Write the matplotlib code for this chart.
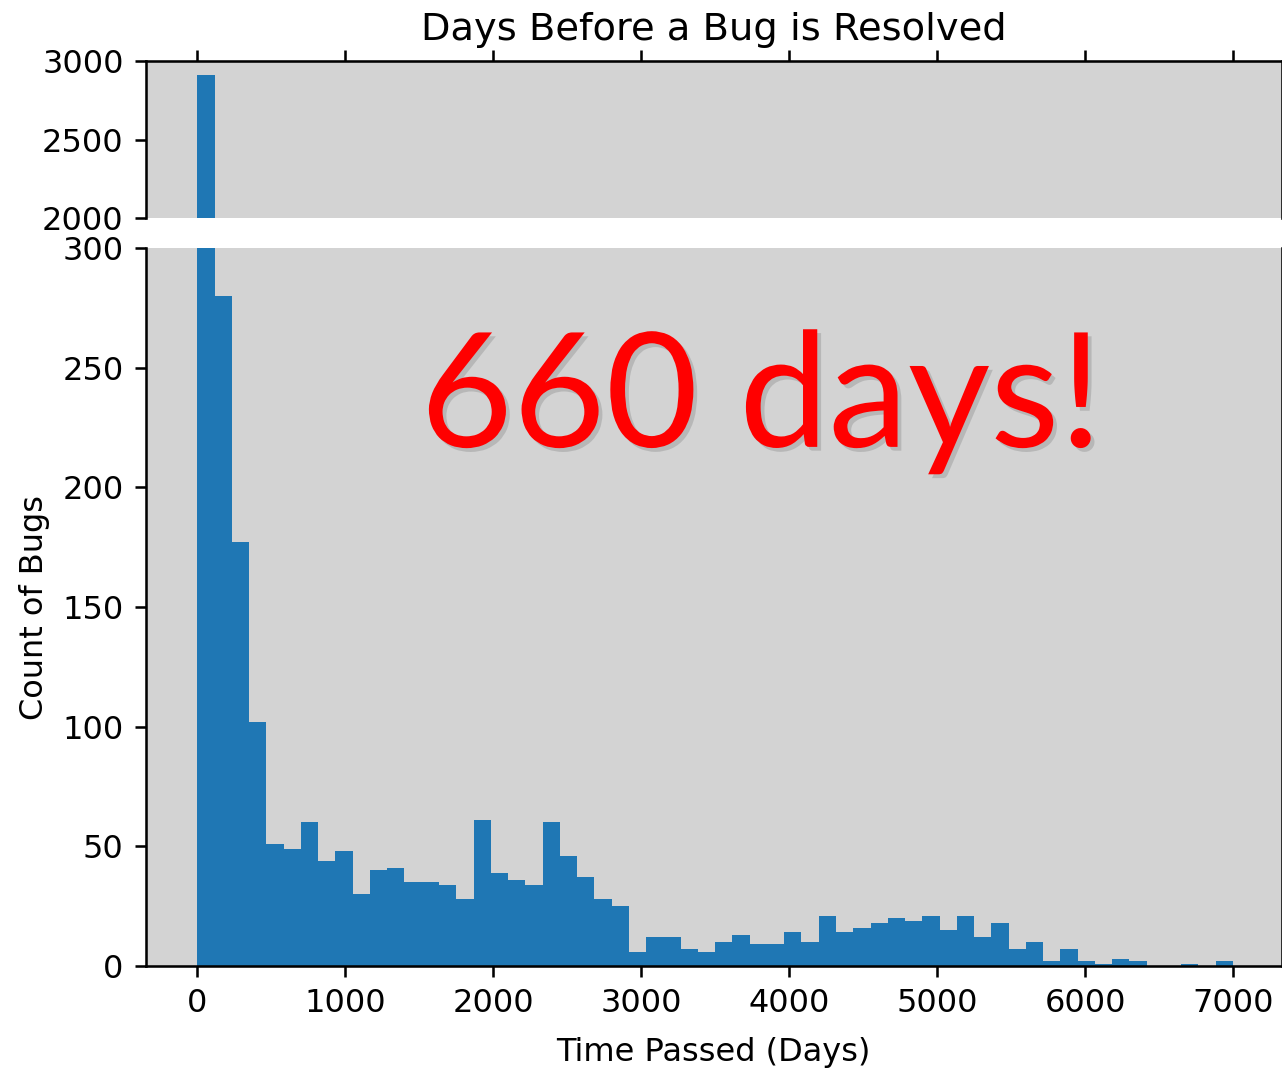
import numpy as np
import matplotlib
matplotlib.use('Agg')
from matplotlib import pyplot as plt
import matplotlib.patheffects as pe

# histogram of days until resolution, 60 bins over 0-7000 days
bin_edges = np.linspace(0, 7000, 61)
counts = [2910, 280, 177, 102, 51, 49, 60, 44, 48, 30,
          40, 41, 35, 35, 34, 28, 61, 39, 36, 34,
          60, 46, 37, 28, 25, 6, 12, 12, 7, 6,
          10, 13, 9, 9, 14, 10, 21, 14, 16, 18,
          20, 19, 21, 15, 21, 12, 18, 7, 10, 2,
          7, 2, 1, 3, 2, 0, 0, 1, 0, 2]
top_yticks = [2000, 2500, 3000]
bottom_yticks = [0, 50, 100, 150, 200, 250, 300]
xticks = [0, 1000, 2000, 3000, 4000, 5000, 6000, 7000]

dpi = 230
fig = plt.figure(figsize=(1282 / dpi, 1069 / dpi), dpi=dpi)
W, H = 1282.0, 1069.0
ax_top = fig.add_axes([146 / W, 1 - 218 / H, (1281.5 - 146) / W, (218 - 61) / H])
ax_bot = fig.add_axes([146 / W, 1 - 966 / H, (1281.5 - 146) / W, (966 - 248) / H])

for ax in (ax_top, ax_bot):
    ax.set_facecolor('lightgray')
    ax.hist(bin_edges[:-1], bins=bin_edges, weights=counts, color='#1f77b4')
    ax.set_xlim(-347, 7328)
    ax.set_xticks(xticks)

ax_top.set_ylim(2000, 3000)
ax_top.set_yticks(top_yticks)
ax_top.spines['bottom'].set_visible(False)
ax_top.xaxis.tick_top()
ax_top.tick_params(labeltop=False)
ax_top.set_title('Days Before a Bug is Resolved', pad=6.7)

ax_bot.set_ylim(0, 300)
ax_bot.set_yticks(bottom_yticks)
ax_bot.spines['top'].set_visible(False)
ax_bot.xaxis.tick_bottom()
ax_bot.set_xlabel('Time Passed (Days)', labelpad=5.4)
ax_bot.set_ylabel('Count of Bugs')

ax_bot.text(0.542, 0.723, '660 days!', transform=ax_bot.transAxes,
            ha='center', va='baseline', color='red', fontsize=50,
            family=['Lato', 'DejaVu Sans'],
            path_effects=[pe.withSimplePatchShadow(offset=(1.2, -1.2),
                                                   shadow_rgbFace='black', alpha=0.13)])

fig.savefig('out.png', dpi=dpi)
